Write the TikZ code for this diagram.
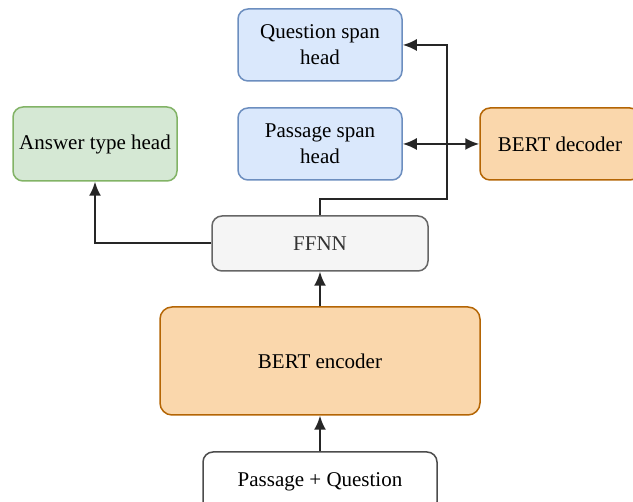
\documentclass[tikz,border=0pt]{standalone}
\usepackage{fontspec}
\setmainfont{Liberation Serif}
\usetikzlibrary{arrows.meta}

\definecolor{headfill}{HTML}{DAE8FC}
\definecolor{headline}{HTML}{6C8EBF}
\definecolor{ansfill}{HTML}{D5E8D4}
\definecolor{ansline}{HTML}{82B366}
\definecolor{bertfill}{HTML}{FAD7AC}
\definecolor{bertline}{HTML}{B46504}
\definecolor{ffnnfill}{HTML}{F5F5F5}
\definecolor{ffnnline}{HTML}{666666}

\begin{document}
\begin{tikzpicture}[x=1pt,y=1pt,
	box/.style={draw, rounded corners=10pt, line width=1.5pt, align=center, inner sep=0pt,
		font=\fontsize{21}{26}\selectfont},
	head/.style={box, draw=headline, fill=headfill, minimum width=164pt, minimum height=72pt},
	bert/.style={box, draw=bertline, fill=bertfill},
	tip/.tip={Latex[length=14pt,width=12pt]},
	link/.style={line width=2pt, black!85, -tip}]
	\clip (0,0) rectangle (633,502);
	
	\node[head] (qspan) at (320,457) {Question span\\head};
	\node[head] (pspan) at (320,358) {Passage span\\head};
	\node[bert, minimum width=160pt, minimum height=72pt] (dec) at (560,358) {BERT decoder};
	\node[box, draw=ansline, fill=ansfill, minimum width=164pt, minimum height=74pt] (ans) at (95,358) {Answer type head};
	\node[box, draw=ffnnline, fill=ffnnfill, text=black!80, minimum width=216pt, minimum height=55pt] (ffnn) at (320,258.5) {FFNN};
	\node[bert, minimum width=320pt, minimum height=108pt, rounded corners=12pt] (enc) at (320,141) {BERT encoder};
	\node[box, draw=black!70, fill=white, minimum width=234pt, minimum height=60pt] (inp) at (320,20) {Passage + Question};
	
	\coordinate (turn) at (447,303);
	
	\draw[link] (inp) -- (enc);
	\draw[link] (enc) -- (ffnn);
	\draw[link] (ffnn.north) |- (turn) |- (qspan.east);
	\draw[link, tip-tip] (pspan) -- (dec);
	\draw[link] (ffnn.west) -| (ans.south);
\end{tikzpicture}
\end{document}
